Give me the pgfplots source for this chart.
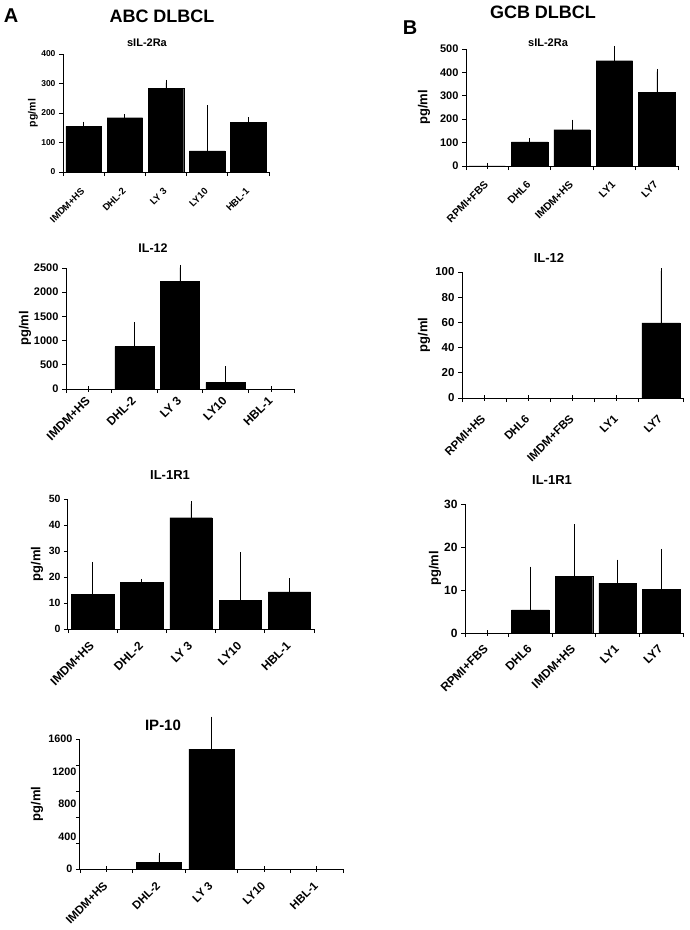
\documentclass[border=0pt]{standalone}
\usepackage{fontspec}
\setmainfont{Liberation Sans}
\usepackage{pgfplots}
\pgfplotsset{compat=1.18}
\newcommand{\fs}[1]{\bfseries\fontsize{#1}{#1}\selectfont}
\pgfplotsset{
  panel/.style={
    scale only axis, anchor=south west,
    xmin=-0.5, xmax=4.5, ymin=0,
    axis x line=bottom, axis y line=left,
    axis line style={-, line width=1pt, black},
    xtick={0,1,2,3,4},
    minor xtick={-0.5,0.5,1.5,2.5,3.5,4.5},
    major x tick style={draw=none},
    minor x tick style={line width=0.8pt, black},
    minor tick length=4pt,
    major tick length=4pt,
    y tick style={line width=0.8pt, black},
    tick align=outside,
    clip=false,
    /pgf/number format/assume math mode=true,
    /pgf/number format/1000 sep={},
    yticklabel style={font=\fs{10}},
    xticklabel style={font=\fs{11}, rotate=45, anchor=east, inner sep=1pt},
    xticklabel shift=10pt,
    ylabel={pg/ml},
    ylabel style={font=\fs{13}},
  },
  bars/.style={ybar, bar width=0.86, fill=black, draw=black,
    error bars/.cd, y dir=plus, y explicit, error mark=-,
    error bar style={line width=0.6pt, black},
    error mark options={black, mark size=2.8pt, line width=0.6pt}},
}
\newcommand{\ylab}[1]{ylabel style={at={(axis description cs:#1,0.5)}, anchor=center}}
\begin{document}
\begin{tikzpicture}
\useasboundingbox (0,0) rectangle (689pt,-930pt);
% headers
\node[font=\fs{20}] at (11pt,-16pt) {A};
\node[font=\fs{18}] at (162pt,-16pt) {ABC DLBCL};
\node[font=\fs{18}] at (543pt,-12pt) {GCB DLBCL};
\node[font=\fs{20}] at (410pt,-28pt) {B};
% titles
\node[font=\fs{11}] at (147pt,-43pt) {sIL-2Ra};
\node[font=\fs{12.5}] at (153pt,-248pt) {IL-12};
\node[font=\fs{13}] at (170pt,-475pt) {IL-1R1};
\node[font=\fs{15}] at (163pt,-725pt) {IP-10};
\node[font=\fs{11}] at (548pt,-43pt) {sIL-2Ra};
\node[font=\fs{13}] at (549pt,-258pt) {IL-12};
\node[font=\fs{13}] at (552pt,-480pt) {IL-1R1};

% A1 sIL-2Ra
\begin{axis}[panel, at={(63pt,-172pt)}, width=206pt, height=118pt,
  ymax=400, ytick={0,100,...,400}, \ylab{-0.146},
  yticklabel style={font=\fs{8.5}},
  xticklabel style={font=\fs{9.5}}, xticklabel shift=13pt,
  ylabel style={font=\fs{10.5}},
  xticklabels={IMDM+HS,DHL-2,LY 3,LY10,HBL-1}]
\addplot[bars] coordinates {(0,155) +- (0,6) (1,184) +- (0,2) (2,283) +- (0,20) (3,72) +- (0,144) (4,168) +- (0,8)};
\end{axis}

% A2 IL-12
\begin{axis}[panel, at={(66pt,-389pt)}, width=228pt, height=121pt,
  ymax=2500, ytick={0,500,...,2500}, \ylab{-0.18},
  yticklabel style={font=\fs{11}},
  xticklabel style={font=\fs{12}}, xticklabel shift=5pt,
  xticklabels={IMDM+HS,DHL-2,LY 3,LY10,HBL-1}]
\addplot[bars] coordinates {(0,0) +- (0,0) (1,877) +- (0,445) (2,2226) +- (0,281) (3,137) +- (0,274) (4,0) +- (0,0)};
\end{axis}

% A3 IL-1R1
\begin{axis}[panel, at={(68pt,-629pt)}, width=246pt, height=130pt,
  ymax=50, ytick={0,10,...,50}, \ylab{-0.126},
  yticklabel style={font=\fs{10.5}},
  xticklabel style={font=\fs{12}},
  xticklabels={IMDM+HS,DHL-2,LY 3,LY10,HBL-1}]
\addplot[bars] coordinates {(0,13.2) +- (0,11.5) (1,18.0) +- (0,0.2) (2,42.8) +- (0,5.2) (3,11.1) +- (0,17.4) (4,14.3) +- (0,4.2)};
\end{axis}

% A4 IP-10
\begin{axis}[panel, at={(80pt,-869pt)}, width=263pt, height=130pt,
  ymax=1600, ytick={0,320,640,960,1280,1600}, yticklabels={0,,,,,1600},
  extra y ticks={400,800,1200}, extra y tick style={major tick length=0pt},
  \ylab{-0.163},
  yticklabel style={font=\fs{10.8}},
  xticklabel style={font=\fs{11.5}},
  xticklabels={IMDM+HS,DHL-2,LY 3,LY10,HBL-1}]
\addplot[bars] coordinates {(0,0) +- (0,0) (1,82) +- (0,86) (2,1477) +- (0,364) (3,0) +- (0,0) (4,0) +- (0,0)};
\end{axis}

% B1 sIL-2Ra
\begin{axis}[panel, at={(466pt,-166pt)}, width=212pt, height=117pt,
  ymax=500, ytick={0,100,...,500}, \ylab{-0.198},
  yticklabel style={font=\fs{11}},
  xticklabel style={font=\fs{10.5}}, xticklabel shift=12pt,
  xticklabels={RPMI+FBS,DHL6,IMDM+HS,LY1,LY7}]
\addplot[bars] coordinates {(0,1) +- (0,0) (1,103) +- (0,3) (2,155) +- (0,31) (3,450) +- (0,51) (4,315) +- (0,88)};
\end{axis}

% B2 IL-12
\begin{axis}[panel, at={(462pt,-398pt)}, width=221pt, height=126pt,
  ymax=100, ytick={0,20,...,100}, \ylab{-0.172},
  yticklabel style={font=\fs{11.5}},
  xticklabel style={font=\fs{11.5}}, xticklabel shift=14pt,
  xticklabels={RPMI+HS,DHL6,IMDM+FBS,LY1,LY7}]
\addplot[bars] coordinates {(0,0) +- (0,0) (1,0) +- (0,0) (2,0) +- (0,0) (3,0) +- (0,0) (4,59.7) +- (0,41)};
\end{axis}

% B3 IL-1R1
\begin{axis}[panel, at={(465pt,-633pt)}, width=218pt, height=129pt,
  ymax=30, ytick={0,10,20,30}, \ylab{-0.138},
  yticklabel style={font=\fs{12}},
  xticklabel style={font=\fs{12}}, xticklabel shift=9pt,
  xticklabels={RPMI+FBS,DHL6,IMDM+HS,LY1,LY7}]
\addplot[bars] coordinates {(0,0) +- (0,0) (1,5.4) +- (0,9.4) (2,13.1) +- (0,11.6) (3,11.6) +- (0,4.8) (4,10.1) +- (0,8.8)};
\end{axis}
\end{tikzpicture}
\end{document}
